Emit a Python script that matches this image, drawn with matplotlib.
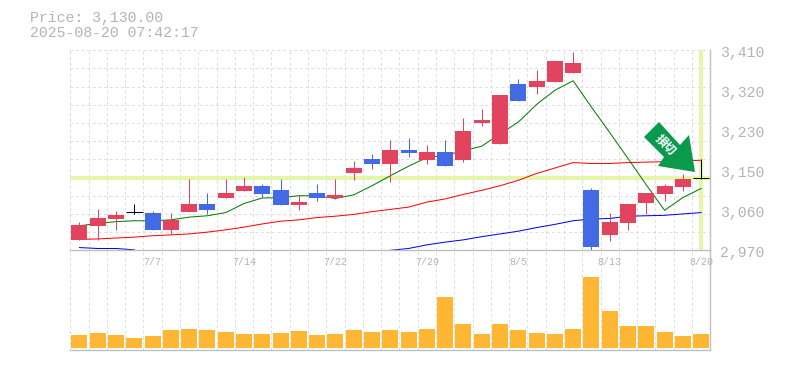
import numpy as np
import matplotlib
matplotlib.use('Agg')
import matplotlib.pyplot as plt
from matplotlib.patches import Polygon
from matplotlib.transforms import IdentityTransform

# daily candles
opens = [2992, 3023, 3038, 3055, 3051, 3014, 3054, 3071, 3084, 3100, 3111, 3102, 3069, 3095, 3084, 3139, 3170, 3159,
         3190, 3168, 3186, 3168, 3249, 3203, 3335, 3329, 3340, 3359, 3102, 3003, 3029, 3073, 3093, 3109, 3130]
closes = [3025, 3040, 3047, 3055, 3014, 3036, 3071, 3058, 3095, 3111, 3093, 3069, 3076, 3084, 3091, 3150, 3159, 3190,
          3183, 3186, 3155, 3232, 3256, 3311, 3298, 3342, 3386, 3381, 2977, 3032, 3071, 3095, 3111, 3126, 3130]
highs = [3032, 3060, 3056, 3071, 3056, 3051, 3126, 3095, 3126, 3131, 3115, 3126, 3091, 3115, 3126, 3166, 3181, 3212,
         3216, 3201, 3212, 3260, 3280, 3311, 3346, 3366, 3386, 3406, 3106, 3051, 3071, 3095, 3115, 3137, 3170]
lows = [2992, 2992, 3014, 3049, 3014, 3005, 3054, 3049, 3084, 3100, 3087, 3069, 3058, 3078, 3082, 3124, 3148, 3120,
        3175, 3159, 3155, 3164, 3243, 3203, 3298, 3313, 3340, 3359, 2970, 2990, 3014, 3049, 3078, 3100, 3126]

# moving averages
ma_green = [3024, 3029, 3033, 3035, 3035, 3037, 3043, 3046, 3053, 3073, 3085, 3086, 3090, 3090, 3084, 3092, 3112, 3134,
            3155, 3174, 3179, 3189, 3199, 3226, 3252, 3291, 3322, 3343, 3285, 3229, 3172, 3114, 3058, 3086, 3106]
ma_red = [2994, 2995, 2997, 2999, 3002, 3004, 3006, 3010, 3015, 3021, 3028, 3034, 3037, 3042, 3045, 3049, 3055, 3060,
          3065, 3076, 3083, 3093, 3102, 3112, 3124, 3139, 3151, 3163, 3161, 3161, 3163, 3164, 3165, 3167, 3168]
ma_blue = [2976, 2974, 2974, 2971, np.nan, np.nan, np.nan, np.nan, np.nan, np.nan, np.nan, np.nan, np.nan, np.nan,
           np.nan, np.nan, np.nan, 2970, 2974, 2982, 2988, 2993, 3000, 3006, 3012, 3020, 3027, 3035, 3039, 3040,
           3045, 3046, 3047, 3050, 3053]

volumes = [13, 15, 13, 10, 12, 18, 19, 18, 16, 14, 14, 15, 17, 13, 14, 18, 16, 18, 16, 19, 51, 24, 14, 24, 18, 15, 14,
           19, 71, 37, 22, 22, 16, 12, 14]

date_idx = [4, 9, 14, 19, 24, 29, 34]
date_labels = ['7/7', '7/14', '7/22', '7/29', '8/5', '8/13', '8/20']
price_ticks = [2970, 3058, 3146, 3234, 3322, 3410]
price_labels = ['2,970', '3,060', '3,150', '3,230', '3,320', '3,410']
last_price = 3130

W, H = 785, 370
GRAY = '#c0c0c0'
TEXT = '#b4b4b4'
GRID = '#dddddd'
BAND = '#e4f7a8'
RED = '#e24460'
BLUE = '#426ae4'
FONT = 'Liberation Mono'
DASH = (0, (2.8, 2.8))
THIN = 0.72

plt.rcParams['font.family'] = FONT
x = np.arange(len(opens))

fig = plt.figure(figsize=(W / 100, H / 100), dpi=100)
ax2 = fig.add_axes([70.3 / W, 1 - 350.3 / H, 640 / W, 100 / H], facecolor='none')
ax = fig.add_axes([70.3 / W, 1 - 250.3 / H, 640 / W, 200 / H], facecolor='none')

for a in (ax, ax2):
    a.set_xlim(-0.5, len(x) - 0.5)
    a.set_xticks(x - 0.5)
    a.tick_params(length=0, labelbottom=False, labelleft=False)
    a.grid(axis='x', color=GRID, linestyle=DASH, linewidth=THIN)
    a.set_axisbelow(True)
    a.spines['top'].set_visible(False)
    a.spines['left'].set_visible(False)
    a.spines['right'].set_color(GRAY)
    a.spines['bottom'].set_color(GRAY)
    a.spines['right'].set_linewidth(1)
    a.spines['bottom'].set_linewidth(1)

ax.set_ylim(2970, 3410)
ax.set_yticks(np.arange(2970, 3411, 40))
ax.grid(axis='y', color=GRID, linestyle=DASH, linewidth=THIN)
ax.axvline(-0.5, color=GRID, linestyle=DASH, linewidth=THIN)
ax2.axvline(-0.5, color=GRID, linestyle=DASH, linewidth=THIN)
ax.axhline(last_price, color=BAND, linewidth=2.9, zorder=1)
ax.axvline(x[-1], ymin=0.01, ymax=0.995, color=BAND, linewidth=2.9, zorder=1)

ax.plot(x, ma_blue, color='#0000ee', linewidth=THIN, zorder=2)
ax.plot(x, ma_red, color='#ff0000', linewidth=THIN, zorder=2)
ax.plot(x, ma_green, color='#007a00', linewidth=THIN, zorder=2)

for i in x:
    if closes[i] == opens[i]:
        ax.vlines(i, lows[i], highs[i], color='black', linewidth=THIN, zorder=3)
        ax.hlines(closes[i], i - 0.45, i + 0.45, color='black', linewidth=THIN, zorder=3)
        continue
    col = RED if closes[i] > opens[i] else BLUE
    ax.vlines(i, lows[i], highs[i], color=col, linewidth=THIN, zorder=3)
    ax.bar(i, abs(closes[i] - opens[i]), bottom=min(opens[i], closes[i]), width=0.875, color=col, zorder=3)

ax2.bar(x, volumes, width=0.875, color='#ffb733', zorder=3)
ax2.set_ylim(-2, 98)
ax2.set_yticks([])

# date labels sit right under the price panel
for i, lab in zip(date_idx, date_labels):
    ax.annotate(lab, (i, 2970), xytext=(0, -12), textcoords='offset pixels', ha='center', va='center',
                fontsize=7.2, color=TEXT, annotation_clip=False)

for v, lab in zip(price_ticks, price_labels):
    ax.annotate(lab, (1, v), xycoords=ax.get_yaxis_transform(), xytext=(10, -3), textcoords='offset pixels',
                ha='left', va='center', fontsize=10.7, color=TEXT, annotation_clip=False)

fig.text(30 / W, 1 - 18 / H, 'Price: 3,130.00', fontsize=10.7, color=TEXT, ha='left', va='center')
fig.text(30 / W, 1 - 33 / H, '2025-08-20 07:42:17', fontsize=10.7, color=TEXT, ha='left', va='center')

# green arrow badge
arrow_px = [(659, 122), (644, 137), (664, 157), (658, 166), (695, 172), (689, 135), (680, 145)]
arrow = Polygon([(px, H - py) for px, py in arrow_px], closed=True, facecolor='#0a9a4b', edgecolor='none',
                transform=IdentityTransform(), zorder=10, clip_on=False)
fig.add_artist(arrow)
fig.text(665 / W, 1 - 145 / H, '損切', fontsize=8.5, color='white', rotation=-45, ha='center', va='center',
         family=['Noto Sans CJK JP', 'DejaVu Sans'], fontweight='bold', zorder=11)

fig.savefig('out.png', dpi=100)
